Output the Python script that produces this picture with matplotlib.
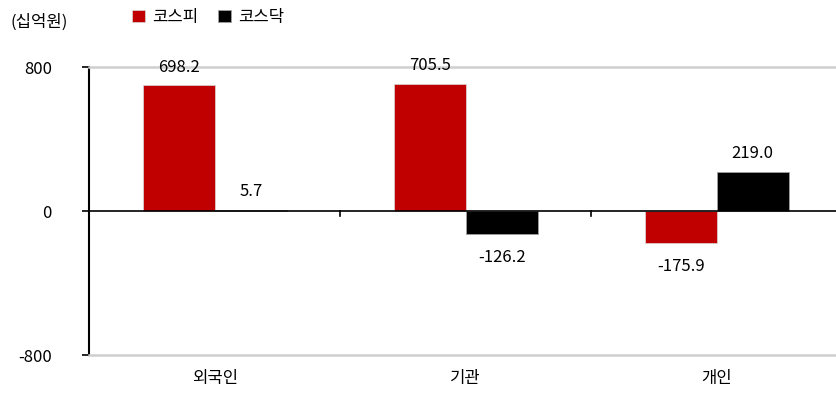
import matplotlib.pyplot as plt
import numpy as np

plt.rcParams['font.family'] = ['Noto Sans CJK KR', 'DejaVu Sans']

categories = ['외국인', '기관', '개인']
kospi = [698.2, 705.5, -175.9]
kosdaq = [5.7, -126.2, 219.0]
series_names = ['코스피', '코스닥']
yticks = [-800, 0, 800]

red = '#c00000'
black = '#000000'

fig = plt.figure(figsize=(8.36, 4), dpi=100)
ax = fig.add_axes([0.107, 0.1125, 0.893, 0.72])

x = np.arange(len(categories))
w = 0.287
b1 = ax.bar(x - w/2, kospi, w, color=red, label=series_names[0], edgecolor='#d9d9d9', linewidth=0.5)
b2 = ax.bar(x + w/2, kosdaq, w, color=black, label=series_names[1], edgecolor='#a0a0a0', linewidth=0.6)

for bars, vals in ((b1, kospi), (b2, kosdaq)):
    for bar, v in zip(bars, vals):
        cx = bar.get_x() + bar.get_width()/2
        if v >= 0:
            ax.annotate(f'{v:.1f}', (cx, v), xytext=(0, 7), textcoords='offset points',
                        ha='center', va='bottom', fontsize=12)
        else:
            ax.annotate(f'{v:.1f}', (cx, v), xytext=(0, -11),
                        textcoords='offset points', ha='center', va='top', fontsize=12)

ax.set_xlim(-0.5, 2.476)
ax.set_ylim(-800, 800)
ax.set_yticks(yticks)
ax.set_yticklabels([str(t) for t in yticks], fontsize=12)
ax.tick_params(axis='y', length=5, width=1.2, pad=22)

# zero line with category separators
ax.axhline(0, color='black', lw=1.2, zorder=3)
ax.set_xticks([])
for s in [0.5, 1.5]:
    ax.plot([s, s], [0, -25], color='black', lw=1.2, zorder=3)
for i, c in enumerate(categories):
    ax.text(i, -885, c, ha='center', va='top', fontsize=12)

for sp in ['top', 'bottom']:
    ax.spines[sp].set_color('#cfcfcf')
    ax.spines[sp].set_linewidth(1.8)
ax.spines['right'].set_visible(False)
ax.spines['left'].set_linewidth(1.5)

fig.text(0.012, 0.945, '(십억원)', fontsize=12, va='center')
fig.legend(loc='center left', bbox_to_anchor=(0.14, 0.957), ncol=2, frameon=False,
           handlelength=0.8, handleheight=0.8, handletextpad=0.4, columnspacing=1.2,
           fontsize=12)

fig.savefig('out.png', dpi=100)
